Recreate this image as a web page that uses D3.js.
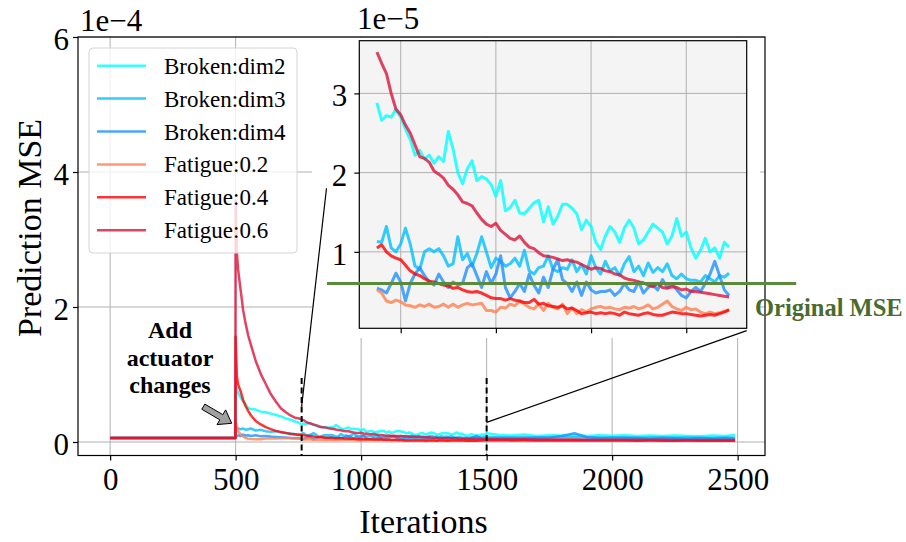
<!DOCTYPE html>
<html>
<head>
<meta charset="utf-8">
<script src="https://cdn.jsdelivr.net/npm/d3@7"></script>
<style>
  body { margin: 0; background: #fff; }
  text { font-family: "Liberation Serif", "Times New Roman", serif; }
</style>
</head>
<body>
<div id="chart"></div>
<script>
// all values are Prediction MSE in units of 1e-5

var seriesNames = ["Broken:dim2", "Broken:dim3", "Broken:dim4", "Fatigue:0.2", "Fatigue:0.4", "Fatigue:0.6"];
var seriesColors = ["#00ffff", "#00bfff", "#1e90ff", "#ff7f50", "#ff0000", "#dc143c"];

// before the actuator change every run sits at the original error
var preIters = [0, 499];
var baseLevel = 0.6;
var originalMSE = 0.6;

// right after the change (iteration 500)
var headIters = [500, 505, 510, 520, 530, 540, 550, 560, 580, 600, 620, 640, 660, 680, 700, 720, 740];
var dim2Head = [8.2, 7.8, 7.2, 6.6, 6.0, 5.6, 5.0, 4.9, 4.8, 4.5, 4.4, 4.2, 4.0, 3.8, 3.5, 3.3, 3.0];
var dim3Head = [2.2, 2.1, 2.0, 1.9, 2.0, 1.8, 1.9, 2.0, 1.7, 1.8, 1.6, 1.5, 1.6, 1.4, 1.3, 1.25, 1.15];
var dim4Head = [0.8, 0.9, 1.0, 0.9, 1.1, 0.95, 1.0, 0.9, 1.0, 0.85, 0.9, 0.8, 0.75, 0.7, 0.65, 0.6, 0.55];
var fat2Head = [3.0, 2.2, 1.6, 1.1, 0.8, 0.6, 0.5, 0.45, 0.4, 0.42, 0.5, 0.55, 0.5, 0.55, 0.6, 0.55, 0.52];
var fat4Head = [15.6, 9.7, 8.5, 7.5, 6.2, 5.3, 4.6, 4.0, 3.1, 2.6, 2.2, 1.9, 1.65, 1.5, 1.35, 1.2, 1.1];
var fat6Head = [35.8, 28, 25.5, 22.5, 19.5, 17.5, 15.8, 14.5, 12.0, 10.1, 8.6, 7.1, 6.0, 5.0, 4.4, 3.9, 3.55];

// zoomed window, 750..1490 every 10 iterations
var midIters = d3.range(750, 1500, 10);
var dim2Mid = [2.88, 2.66, 2.72, 2.70, 2.80, 2.70, 2.55, 2.42, 2.22, 2.28,
  2.17, 2.22, 2.12, 2.2, 2.14, 2.52, 2.3, 2.0, 1.86, 2.05,
  2.15, 1.9, 1.95, 1.92, 1.85, 1.70, 1.9, 1.52, 1.56, 1.65,
  1.49, 1.48, 1.55, 1.62, 1.65, 1.38, 1.57, 1.35, 1.45, 1.6,
  1.6, 1.55, 1.48, 1.28, 1.40, 1.32, 1.12, 1.03, 1.2, 1.32,
  1.25, 1.12, 1.3, 1.4, 1.3, 1.1, 1.15, 1.25, 1.35, 1.3,
  1.25, 1.1, 1.2, 1.42, 1.2, 1.25, 1.05, 0.92, 1.02, 1.17,
  1.0, 1.05, 0.92, 1.12, 1.06];
var dim3Mid = [1.13, 1.12, 1.32, 1.05, 1.0, 1.1, 1.30, 1.1, 0.82, 0.78,
  1.0, 1.04, 1.0, 1.04, 0.95, 0.82, 0.85, 1.19, 0.9, 0.98,
  0.82, 0.98, 1.19, 1.0, 0.8, 0.92, 0.88, 0.82, 0.85, 0.92,
  0.82, 1.02, 0.76, 0.72, 0.8, 0.82, 0.95, 0.78, 0.75, 0.8,
  0.78, 0.9, 0.75, 0.84, 0.72, 0.95, 0.8, 0.72, 0.88, 0.76,
  0.8, 0.7, 0.85, 0.94, 0.75, 0.82, 0.7, 0.86, 0.74, 0.8,
  0.75, 0.85, 0.7, 0.66, 0.72, 0.66, 0.64, 0.64, 0.62, 0.7,
  0.66, 0.62, 0.7, 0.68, 0.73];
var dim4Mid = [0.54, 0.52, 0.48, 0.6, 0.73, 0.62, 0.38, 0.6, 0.72, 0.8,
  0.7, 0.62, 0.58, 0.72, 0.62, 0.55, 0.62, 0.58, 0.6, 0.8,
  0.85, 0.7, 0.55, 0.75, 0.6, 0.72, 0.95, 0.55, 0.42, 0.5,
  0.6, 0.5, 0.72, 0.58, 0.48, 0.68, 0.55, 0.78, 0.9, 0.65,
  0.6, 0.5, 0.62, 0.45, 0.62, 0.52, 0.48, 0.5, 0.5, 0.52,
  0.45, 0.5, 0.6, 0.52, 0.5, 0.62, 0.48, 0.55, 0.58, 0.52,
  0.65, 0.55, 0.6, 0.52, 0.45, 0.42, 0.5, 0.55, 0.5, 0.6,
  0.72, 0.88, 0.7, 0.52, 0.45];
var fat2Mid = [0.52, 0.48, 0.38, 0.36, 0.39, 0.37, 0.33, 0.32, 0.3, 0.33,
  0.31, 0.34, 0.3, 0.31, 0.34, 0.3, 0.34, 0.3, 0.33, 0.35,
  0.33, 0.34, 0.35, 0.26, 0.26, 0.24, 0.3, 0.29, 0.34, 0.32,
  0.38, 0.34, 0.3, 0.28, 0.34, 0.26, 0.35, 0.3, 0.28, 0.34,
  0.22, 0.29, 0.22, 0.27, 0.24, 0.28, 0.3, 0.31, 0.29, 0.3,
  0.28, 0.27, 0.3, 0.29, 0.31, 0.28, 0.3, 0.33, 0.28, 0.3,
  0.34, 0.38, 0.31, 0.28, 0.26, 0.3, 0.27, 0.28, 0.24, 0.22,
  0.24, 0.22, 0.23, 0.25, 0.26];
var fat4Mid = [1.05, 1.09, 1.0, 0.95, 0.92, 0.9, 0.83, 0.76, 0.72, 0.7,
  0.66, 0.63, 0.62, 0.6, 0.58, 0.57, 0.54, 0.55, 0.52, 0.5,
  0.49, 0.5, 0.48, 0.45, 0.42, 0.41, 0.41, 0.39, 0.41, 0.39,
  0.38, 0.36, 0.36, 0.4, 0.34, 0.35, 0.32, 0.31, 0.3, 0.32,
  0.28, 0.29, 0.26, 0.22, 0.23, 0.24, 0.22, 0.23, 0.22, 0.23,
  0.22, 0.2, 0.24, 0.22, 0.21, 0.2, 0.22, 0.23, 0.21, 0.2,
  0.2, 0.22, 0.24, 0.23, 0.22, 0.22, 0.21, 0.2, 0.19, 0.2,
  0.21, 0.2, 0.22, 0.24, 0.27];
var fat6Mid = [3.52, 3.38, 3.25, 3.0, 2.8, 2.73, 2.6, 2.5, 2.35, 2.2,
  2.18, 2.13, 2.02, 1.98, 1.93, 1.84, 1.79, 1.72, 1.63, 1.61,
  1.58, 1.49, 1.41, 1.35, 1.32, 1.36, 1.27, 1.22, 1.17, 1.15,
  1.2, 1.12, 1.06, 1.04, 0.99, 0.95, 0.94, 0.93, 0.91, 0.89,
  0.9, 0.88, 0.87, 0.84, 0.81, 0.78, 0.8, 0.79, 0.76, 0.75,
  0.72, 0.71, 0.67, 0.65, 0.64, 0.62, 0.61, 0.58, 0.56, 0.6,
  0.55, 0.54, 0.56, 0.55, 0.52, 0.53, 0.5, 0.5, 0.49, 0.48,
  0.47, 0.46, 0.45, 0.44, 0.43];

// late training, coarse
var tailIters = [1500, 1550, 1600, 1650, 1700, 1750, 1800, 1850, 1900, 1950, 2000,
  2050, 2100, 2150, 2200, 2250, 2300, 2350, 2400, 2450, 2490];
var dim2Tail = [1.3, 1.05, 0.95, 1.1, 0.9, 1.0, 0.95, 1.05, 0.9, 1.0, 0.92, 1.0, 0.9, 0.95, 0.88, 0.98, 0.9, 0.85, 0.95, 0.88, 1.05];
var dim3Tail = [0.75, 0.7, 0.72, 0.68, 0.7, 0.66, 0.72, 0.7, 0.68, 0.65, 0.7, 0.66, 0.64, 0.68, 0.65, 0.62, 0.66, 0.64, 0.6, 0.65, 0.62];
var dim4Tail = [0.5, 0.6, 0.55, 0.62, 0.58, 0.65, 0.9, 1.3, 0.7, 0.6, 0.55, 0.62, 0.58, 0.5, 0.6, 0.55, 0.5, 0.58, 0.52, 0.55, 0.5];
var fat2Tail = [0.27, 0.28, 0.26, 0.3, 0.27, 0.28, 0.26, 0.29, 0.27, 0.25, 0.28, 0.26, 0.27, 0.25, 0.26, 0.24, 0.27, 0.25, 0.26, 0.24, 0.25];
var fat4Tail = [0.27, 0.25, 0.24, 0.25, 0.23, 0.24, 0.22, 0.23, 0.22, 0.21, 0.22, 0.21, 0.2, 0.21, 0.2, 0.2, 0.21, 0.2, 0.19, 0.2, 0.2];
var fat6Tail = [0.43, 0.42, 0.4, 0.39, 0.38, 0.37, 0.36, 0.36, 0.35, 0.34, 0.34, 0.33, 0.33, 0.32, 0.32, 0.31, 0.31, 0.3, 0.3, 0.3, 0.29];

var heads = [dim2Head, dim3Head, dim4Head, fat2Head, fat4Head, fat6Head];
var mids = [dim2Mid, dim3Mid, dim4Mid, fat2Mid, fat4Mid, fat6Mid];
var tails = [dim2Tail, dim3Tail, dim4Tail, fat2Tail, fat4Tail, fat6Tail];

var mainXTicks = [0, 500, 1000, 1500, 2000, 2500];
var mainYTicks = [0, 20, 40, 60];
var insetXTicks = [800, 1000, 1200, 1400];
var insetYTicks = [1, 2, 3];
var zoomStart = 763, zoomEnd = 1500;

var serif = "'Liberation Serif', 'Times New Roman', serif";

var svgWidth = 906, svgHeight = 542;
var svg = d3.select("#chart").append("svg")
  .attr("width", svgWidth)
  .attr("height", svgHeight)
  .style("font-family", serif);

// main axes box
var box = { left: 78, right: 765, top: 37, bottom: 455.5 };
var x = d3.scaleLinear().domain([-128, 2609]).range([box.left, box.right]);
var y = d3.scaleLinear().domain([-2, 60]).range([box.bottom, box.top]);

// inset box
var ibox = { left: 359.3, right: 746.7, top: 40.7, bottom: 328.3 };
var ix = d3.scaleLinear().domain([713, 1527]).range([ibox.left, ibox.right]);
var iy = d3.scaleLinear().domain([0.035, 3.665]).range([ibox.bottom, ibox.top]);

var gridColor = "#b0b0b0";

// build the series
var mainData = seriesNames.map(function(name, k) {
  var iters = preIters.concat(headIters, midIters, tailIters);
  var vals = preIters.map(function() { return baseLevel; }).concat(heads[k], mids[k], tails[k]);
  return iters.map(function(it, i) { return [it, vals[i]]; });
});
var insetData = seriesNames.map(function(name, k) {
  return midIters.map(function(it, i) { return [it, mids[k][i]]; });
});

var defs = svg.append("defs");
defs.append("clipPath").attr("id", "clipMain").append("rect")
  .attr("x", box.left).attr("y", box.top)
  .attr("width", box.right - box.left).attr("height", box.bottom - box.top);
defs.append("clipPath").attr("id", "clipInset").append("rect")
  .attr("x", ibox.left).attr("y", ibox.top)
  .attr("width", ibox.right - ibox.left).attr("height", ibox.bottom - ibox.top);

// main grid
svg.append("g").selectAll("line").data(mainXTicks).enter().append("line")
  .attr("x1", d => x(d)).attr("x2", d => x(d))
  .attr("y1", box.top).attr("y2", box.bottom)
  .attr("stroke", gridColor).attr("stroke-width", 1);
svg.append("g").selectAll("line").data(mainYTicks).enter().append("line")
  .attr("x1", box.left).attr("x2", box.right)
  .attr("y1", d => y(d)).attr("y2", d => y(d))
  .attr("stroke", gridColor).attr("stroke-width", 1);

// main lines
var mainLine = d3.line().x(d => x(d[0])).y(d => y(d[1]));
svg.append("g").attr("clip-path", "url(#clipMain)")
  .selectAll("path").data(mainData).enter().append("path")
  .attr("d", mainLine)
  .attr("fill", "none")
  .attr("stroke", (d, i) => seriesColors[i])
  .attr("stroke-opacity", 0.8)
  .attr("stroke-width", 2.5)
  .attr("stroke-linejoin", "round");

// dashed markers for the zoomed range
svg.append("g").selectAll("line").data([zoomStart, zoomEnd]).enter().append("line")
  .attr("x1", d => x(d)).attr("x2", d => x(d))
  .attr("y1", y(9.5)).attr("y2", box.bottom)
  .attr("stroke", "#000").attr("stroke-width", 2)
  .attr("stroke-dasharray", "6,3.5");

// main axes
var xAxis = svg.append("g")
  .attr("transform", `translate(0, ${box.bottom})`)
  .call(d3.axisBottom(x).tickValues(mainXTicks).tickSize(5).tickPadding(7.5)
    .tickFormat(d3.format("d")));
var yAxis = svg.append("g")
  .attr("transform", `translate(${box.left}, 0)`)
  .call(d3.axisLeft(y).tickValues(mainYTicks).tickSize(5).tickPadding(4)
    .tickFormat(d => d3.format("d")(d / 10)));
[xAxis, yAxis].forEach(function(a) {
  a.select(".domain").remove();
  a.selectAll(".tick line").attr("stroke", "#000").attr("stroke-width", 1.2);
  a.selectAll(".tick text").attr("fill", "#000")
    .style("font-size", "31px").style("font-family", serif);
});
yAxis.selectAll(".tick text").attr("dy", "0.4em");

svg.append("text").attr("x", 80).attr("y", 31)
  .style("font-size", "31px").text("1e\u22124");

// axis labels
svg.append("text")
  .attr("x", (box.left + box.right) / 2 + 2).attr("y", 533)
  .attr("text-anchor", "middle").style("font-size", "34px")
  .text("Iterations");
svg.append("text")
  .attr("transform", "translate(41, 228) rotate(-90)")
  .attr("text-anchor", "middle").style("font-size", "34px")
  .text("Prediction MSE");

// legend
var legend = svg.append("g");
legend.append("rect")
  .attr("x", 89).attr("y", 48).attr("width", 208).attr("height", 205).attr("rx", 4)
  .attr("fill", "#fff").attr("fill-opacity", 0.8)
  .attr("stroke", "#d4d4d4").attr("stroke-width", 1);
var entries = legend.selectAll("g.entry").data(seriesNames).enter().append("g")
  .attr("transform", (d, i) => `translate(0, ${65.7 + i * 32.9})`);
entries.append("line")
  .attr("x1", 97).attr("x2", 146)
  .attr("stroke", (d, i) => seriesColors[i])
  .attr("stroke-opacity", 0.8).attr("stroke-width", 2.5);
entries.append("text")
  .attr("x", 164).attr("y", 8)
  .style("font-size", "23px").text(d => d);

// annotation with arrow
var note = svg.append("g").attr("text-anchor", "middle")
  .style("font-size", "24px").style("font-weight", "bold");
["Add", "actuator", "changes"].forEach(function(t, i) {
  note.append("text").attr("x", 170).attr("y", 338 + i * 27.5).text(t);
});
var tail = [203.3, 406.7], tip = [231.7, 423.3];
var dx = tip[0] - tail[0], dy = tip[1] - tail[1], len = Math.hypot(dx, dy);
var ux = dx / len, uy = dy / len, nx = -uy, ny = ux;
var neck = [tip[0] - ux * 12, tip[1] - uy * 12];
var arrowPts = [
  [tail[0] + nx * 3, tail[1] + ny * 3],
  [neck[0] + nx * 3, neck[1] + ny * 3],
  [neck[0] + nx * 8.5, neck[1] + ny * 8.5],
  tip,
  [neck[0] - nx * 8.5, neck[1] - ny * 8.5],
  [neck[0] - nx * 3, neck[1] - ny * 3],
  [tail[0] - nx * 3, tail[1] - ny * 3]
];
svg.append("path")
  .attr("d", "M" + arrowPts.map(p => p.join(",")).join("L") + "Z")
  .attr("fill", "#a0a0a0").attr("stroke", "#000").attr("stroke-width", 1);

// white backing of the inset and its labels
svg.append("rect")
  .attr("x", 312).attr("y", 38).attr("width", 448).attr("height", 300)
  .attr("fill", "#fff");

// main spines
svg.append("rect")
  .attr("x", box.left).attr("y", box.top)
  .attr("width", box.right - box.left).attr("height", box.bottom - box.top)
  .attr("fill", "none").attr("stroke", "#000").attr("stroke-width", 1.2);

// inset
svg.append("rect")
  .attr("x", ibox.left).attr("y", ibox.top)
  .attr("width", ibox.right - ibox.left).attr("height", ibox.bottom - ibox.top)
  .attr("fill", "#f4f4f4");
svg.append("g").selectAll("line").data(insetXTicks).enter().append("line")
  .attr("x1", d => ix(d)).attr("x2", d => ix(d))
  .attr("y1", ibox.top).attr("y2", ibox.bottom)
  .attr("stroke", gridColor).attr("stroke-width", 1);
svg.append("g").selectAll("line").data(insetYTicks).enter().append("line")
  .attr("x1", ibox.left).attr("x2", ibox.right)
  .attr("y1", d => iy(d)).attr("y2", d => iy(d))
  .attr("stroke", gridColor).attr("stroke-width", 1);

var insetLine = d3.line().x(d => ix(d[0])).y(d => iy(d[1]));
svg.append("g").attr("clip-path", "url(#clipInset)")
  .selectAll("path").data(insetData).enter().append("path")
  .attr("d", insetLine)
  .attr("fill", "none")
  .attr("stroke", (d, i) => seriesColors[i])
  .attr("stroke-opacity", 0.8)
  .attr("stroke-width", 3)
  .attr("stroke-linejoin", "round");

svg.append("rect")
  .attr("x", ibox.left).attr("y", ibox.top)
  .attr("width", ibox.right - ibox.left).attr("height", ibox.bottom - ibox.top)
  .attr("fill", "none").attr("stroke", "#000").attr("stroke-width", 1.2);

var ixAxis = svg.append("g")
  .attr("transform", `translate(0, ${ibox.bottom})`)
  .call(d3.axisBottom(ix).tickValues(insetXTicks).tickSize(5).tickFormat(""));
var iyAxis = svg.append("g")
  .attr("transform", `translate(${ibox.left}, 0)`)
  .call(d3.axisLeft(iy).tickValues(insetYTicks).tickSize(5).tickPadding(7)
    .tickFormat(d3.format("d")));
[ixAxis, iyAxis].forEach(function(a) {
  a.select(".domain").remove();
  a.selectAll(".tick line").attr("stroke", "#000").attr("stroke-width", 1.2);
  a.selectAll(".tick text").attr("fill", "#000")
    .style("font-size", "31px").style("font-family", serif);
});
iyAxis.selectAll(".tick text").attr("dy", "0.4em");
svg.append("text").attr("x", 357).attr("y", 29)
  .style("font-size", "31px").text("1e\u22125");

// original MSE reference line
svg.append("line")
  .attr("x1", ix(645)).attr("x2", ix(1631))
  .attr("y1", iy(originalMSE)).attr("y2", iy(originalMSE))
  .attr("stroke", "#5a8a3a").attr("stroke-width", 3);
svg.append("text").attr("x", 755).attr("y", 316)
  .style("font-size", "24.5px").style("font-weight", "bold")
  .attr("fill", "#4a6b2c").text("Original MSE");

// connectors from the zoomed range to the inset (main data coordinates)
var connectors = [
  [[zoomStart, 5.27], [862, 37.6]],
  [[zoomEnd, 2.9], [2536, 16.5]]
];
svg.append("g").selectAll("line").data(connectors).enter().append("line")
  .attr("x1", d => x(d[0][0])).attr("y1", d => y(d[0][1]))
  .attr("x2", d => x(d[1][0])).attr("y2", d => y(d[1][1]))
  .attr("stroke", "#000").attr("stroke-width", 1.2);
</script>
</body>
</html>
